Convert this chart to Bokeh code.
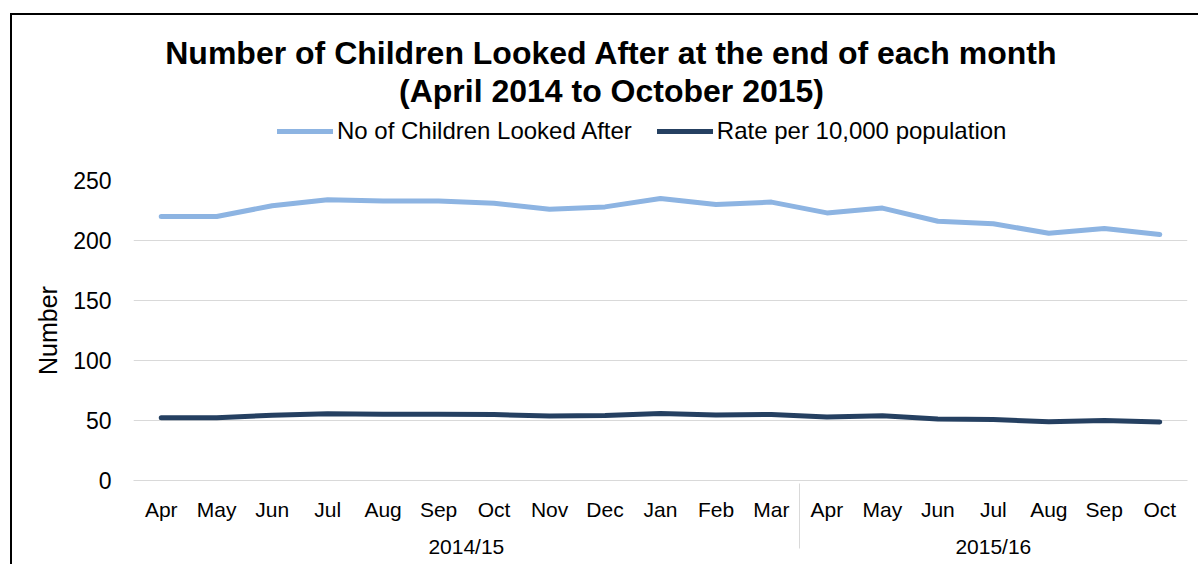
from bokeh.plotting import figure
from bokeh.layouts import column
from bokeh.models import (FactorRange, Range1d, FixedTicker, Legend, LegendItem, Label)
from bokeh.embed import file_html
from bokeh.resources import INLINE

# ---- data ----
years = ["2014/15"] * 12 + ["2015/16"] * 7
months = ["Apr", "May", "Jun", "Jul", "Aug", "Sep", "Oct", "Nov", "Dec", "Jan", "Feb", "Mar",
          "Apr", "May", "Jun", "Jul", "Aug", "Sep", "Oct"]
children = [220, 220, 229, 234, 233, 233, 231, 226, 228, 235, 230, 232,
            223, 227, 216, 214, 206, 210, 205]
rate = [52.3, 52.3, 54.4, 55.6, 55.3, 55.3, 54.9, 53.7, 54.2, 55.8, 54.6, 55.1,
        53.0, 53.9, 51.3, 50.8, 48.9, 49.9, 48.7]
y_ticks = [0, 50, 100, 150, 200, 250]
title_lines = ["Number of Children Looked After at the end of each month",
               "(April 2014 to October 2015)"]
series_names = ["No of Children Looked After", "Rate per 10,000 population"]
colors = ["#8DB4E2", "#254061"]

factors = list(zip(years, months))
FONT = "Liberation Sans"
GRID = "#D9D9D9"
BL, BR = 121, 11          # left / right borders shared by both figures

# ---------- header figure: title + legend ----------
HW, HH = 1186, 145
head = figure(width=HW, height=HH, output_backend="svg", toolbar_location=None,
              x_range=Range1d(BL, HW - BR), y_range=Range1d(HH, 0),
              x_axis_type=None, y_axis_type=None,
              min_border_left=BL, min_border_right=BR,
              min_border_top=0, min_border_bottom=0)
head.outline_line_color = None
head.xgrid.grid_line_color = None
head.ygrid.grid_line_color = None
head.background_fill_color = "white"
head.border_fill_color = "white"

for line, cy in zip(title_lines, [37, 75]):
    head.add_layout(Label(x=599, y=cy, text=line, text_align="center", text_baseline="middle",
                          text_font=FONT, text_font_size="32px", text_font_style="bold",
                          text_color="black"))

# legend samples (single off-frame point each, nothing visible is drawn)
d1 = head.line(x=[0], y=[-50], line_color=colors[0], line_width=5, line_cap="round")
d2 = head.line(x=[0], y=[-50], line_color=colors[1], line_width=5, line_cap="round")
legend = Legend(items=[LegendItem(label=series_names[0], renderers=[d1]),
                       LegendItem(label=series_names[1], renderers=[d2])],
                orientation="horizontal", location=(144, 15),
                border_line_color=None, background_fill_alpha=0,
                label_text_font=FONT, label_text_font_size="24px", label_text_color="black",
                glyph_width=56, glyph_height=24, label_standoff=4, spacing=25,
                padding=0, margin=0)
head.add_layout(legend, "center")

# ---------- main chart ----------
p = figure(width=HW, height=404, output_backend="svg", toolbar_location=None,
           x_range=FactorRange(*factors, range_padding=0, factor_padding=0,
                               group_padding=0, subgroup_padding=0),
           y_range=Range1d(0, 250),
           min_border_left=BL, min_border_right=BR, min_border_top=20, min_border_bottom=84)
p.outline_line_color = None
p.background_fill_color = "white"
p.border_fill_color = "white"

p.line(x=factors, y=children, line_color=colors[0], line_width=5,
       line_cap="round", line_join="round")
p.line(x=factors, y=rate, line_color=colors[1], line_width=5,
       line_cap="round", line_join="round")

p.xgrid.grid_line_color = None
p.ygrid.grid_line_color = GRID
p.ygrid.grid_line_width = 1

ya = p.yaxis[0]
ya.ticker = FixedTicker(ticks=y_ticks)
ya.axis_line_color = None
ya.major_tick_line_color = None
ya.minor_tick_line_color = None
ya.major_label_text_font = FONT
ya.major_label_text_font_size = "23px"
ya.major_label_text_color = "black"
ya.major_label_standoff = 16
ya.axis_label = "Number"
ya.axis_label_text_font = FONT
ya.axis_label_text_font_size = "25px"
ya.axis_label_text_font_style = "normal"
ya.axis_label_text_color = "black"
ya.axis_label_standoff = 8

xa = p.xaxis[0]
xa.axis_line_color = GRID
xa.axis_line_width = 1
xa.major_tick_line_color = None
xa.minor_tick_line_color = None
xa.major_label_text_font = FONT
xa.major_label_text_font_size = "21px"
xa.major_label_text_color = "black"
xa.group_text_font = FONT
xa.group_text_font_size = "21px"
xa.group_text_color = "black"
xa.group_text_font_style = "normal"
xa.separator_line_color = GRID
xa.separator_line_width = 1
xa.major_label_standoff = 11

root = column(head, p, spacing=0, margin=(13, 0, 0, 10),
              styles={"border-left": "2px solid black", "border-top": "2px solid black"})

open("out.html", "w").write(file_html(root, INLINE))
